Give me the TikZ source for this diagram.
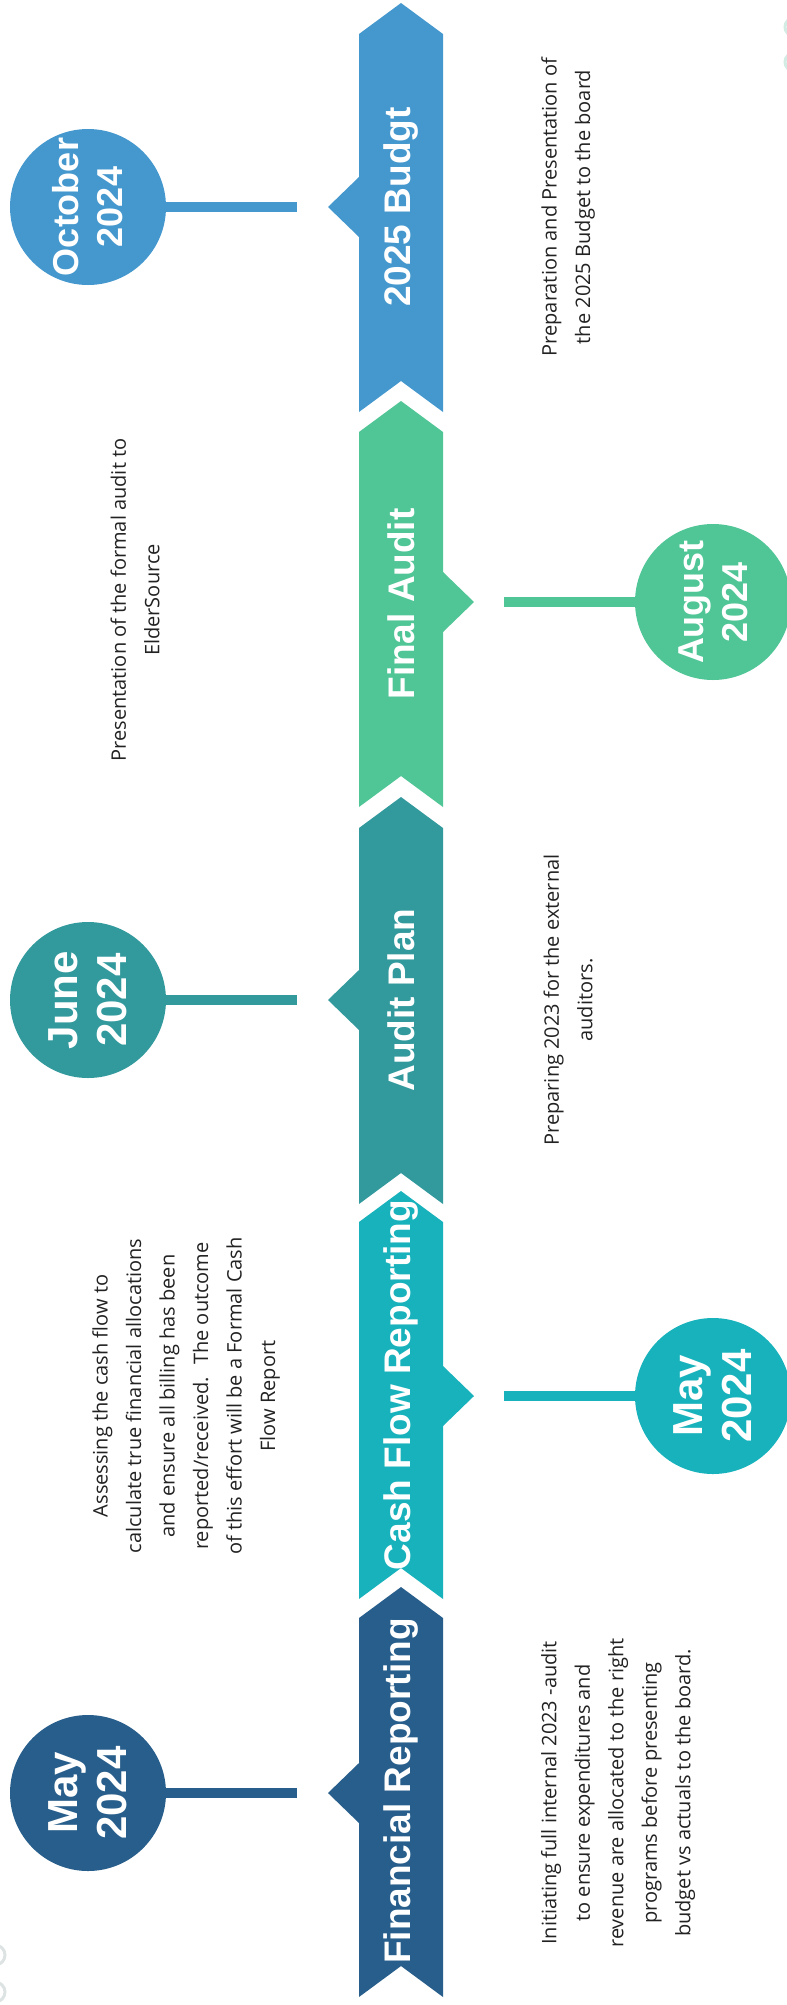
\documentclass[tikz,border=0pt]{standalone}
\usepackage{fontspec}
\setmainfont{Open Sans}
\newfontfamily\headfont{Liberation Sans}
\usetikzlibrary{positioning}
\definecolor{budblue}{HTML}{4598CE}
\definecolor{auditgreen}{HTML}{50C596}
\definecolor{planteal}{HTML}{32999D}
\definecolor{cashcyan}{HTML}{17B2BB}
\definecolor{finblue}{HTML}{285E8B}
\definecolor{descgray}{HTML}{222222}
\definecolor{decomint}{HTML}{D3ECE3}
\definecolor{decogray}{HTML}{DDE3E3}
\begin{document}
\begin{tikzpicture}[x=1pt,y=-1pt,
    datecirc/.style={circle, fill=#1, minimum size=156pt, inner sep=0pt, text=white, align=center, rotate=90,
      font=\headfont\bfseries\fontsize{36}{44}\selectfont},
    bigdate/.style={font=\headfont\bfseries\fontsize{42}{49}\selectfont},
    bandlabel/.style={text=white, inner sep=0pt, rotate=90, font=\headfont\bfseries\fontsize{37}{40}\selectfont},
    desc/.style={text=descgray, align=center, inner sep=0pt, rotate=90, font=\fontsize{20}{33.5}\selectfont},
    link/.style={draw=#1, line width=9.5pt}]
  \useasboundingbox (0,0) rectangle (787,2005);
  \foreach \col/\t/\b/\m/\s in {budblue/3/412/207/-1, auditgreen/401/807/602/1, planteal/797/1204/1000/-1,
      cashcyan/1191/1599/1396/1, finblue/1587/1997/1793/-1} {
    \fill[\col] (401,\t) -- (443,{\t+31}) -- (443,\b) -- (401,{\b-31}) -- (359,\b) -- (359,{\t+31}) -- cycle;
    \fill[\col] ({401+42*(\s)},{\m-30}) -- ({401+73*(\s)},\m) -- ({401+42*(\s)},{\m+30}) -- cycle;
  }
  \node[bandlabel] (budlbl) at (401,207) {2025 Budgt};
  \node[bandlabel] (auditlbl) at (401,604) {Final Audit};
  \node[bandlabel] (planlbl) at (401,1000) {Audit Plan};
  \node[bandlabel] (cashlbl) at (401,1385) {Cash Flow Reporting};
  \node[bandlabel] (finlbl) at (401,1791) {Financial Reporting};
  \node[datecirc=budblue] (oct) at (88,207) {October\\2024};
  \node[datecirc=auditgreen] (aug) at (713,602) {August\\2024};
  \node[datecirc=planteal, bigdate] (jun) at (88,1000) {June\\2024};
  \node[datecirc=cashcyan, bigdate] (maycash) at (713,1396) {May\\2024};
  \node[datecirc=finblue, bigdate] (mayfin) at (88,1793) {May\\2024};
  \coordinate (oct-end) at (297,207);
  \coordinate (aug-end) at (504,602);
  \coordinate (jun-end) at (297,1000);
  \coordinate (maycash-end) at (504,1396);
  \coordinate (mayfin-end) at (297,1793);
  \draw[link=budblue] (oct) -- (oct-end);
  \draw[link=auditgreen] (aug) -- (aug-end);
  \draw[link=planteal] (jun) -- (jun-end);
  \draw[link=cashcyan] (maycash) -- (maycash-end);
  \draw[link=finblue] (mayfin) -- (mayfin-end);
  \node[desc] (buddesc) at (568,207) {Preparation and Presentation of\\the 2025 Budget to the board};
  \node[desc] (auditdesc) at (135,600) {Presentation of the formal audit to\\ElderSource};
  \node[desc] (plandesc) at (568,1000) {Preparing 2023 for the external\\auditors.};
  \node[desc] (cashdesc) at (186,1396) {Assessing the cash flow to\\calculate true financial allocations\\and ensure all billing has been\\reported/received.~ The outcome\\of this effort will be a Formal Cash\\Flow Report};
  \node[desc] (findesc) at (618,1793) {Initiating full internal 2023 -audit\\to ensure expenditures and\\revenue are allocated to the right\\programs before presenting\\budget vs actuals to the board.};
  \draw[decomint, line width=3pt] (794,27) circle (9) (794,62) circle (9);
  \draw[decogray, line width=3pt] (-5,1955) circle (10) (-5,1992) circle (10);
\end{tikzpicture}
\end{document}
